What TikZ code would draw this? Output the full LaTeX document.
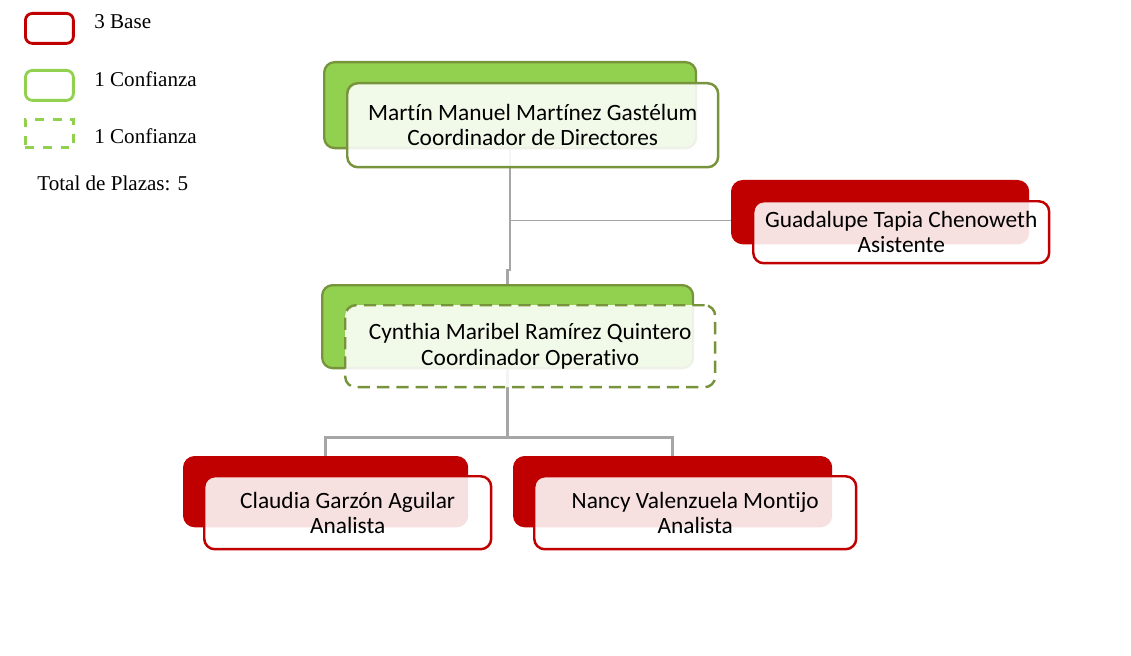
\documentclass[tikz,border=0pt]{standalone}
\usepackage{fontspec}
\usepackage{xcolor}
\setmainfont{Liberation Serif}
\newfontfamily\calibri[Ligatures=NoCommon]{Carlito}
\definecolor{baseRed}{HTML}{C00000}
\definecolor{confGreen}{HTML}{92D050}
\definecolor{darkGreen}{HTML}{77933C}
\definecolor{connGray}{HTML}{A6A6A6}

\begin{document}
\begin{tikzpicture}[x=0.02cm,y=-0.02cm,
    backbox/.style={draw, rounded corners=6pt, line width=1.3pt, anchor=north west, inner sep=0pt},
    frontbox/.style={draw, rounded corners=6pt, line width=1.4pt, fill=white, fill opacity=0.88, text opacity=1,
        anchor=north west, inner sep=0pt, align=center, font=\calibri\fontsize{13.3}{14.4}\selectfont},
    conn/.style={draw=connGray, line width=1.4pt},
    legtext/.style={anchor=west, inner sep=0pt, font=\fontsize{12}{14}\selectfont}]
    \useasboundingbox (0,0) rectangle (1131,655);

    % legend
    \node[draw=baseRed, line width=1.6pt, rounded corners=4pt, anchor=north west, minimum width=0.96cm, minimum height=0.6cm] (legBase) at (24,12) {};
    \node[legtext] (legBaseText) at (94,22) {3 Base};
    \node[draw=confGreen, line width=1.6pt, rounded corners=4pt, anchor=north west, minimum width=0.96cm, minimum height=0.6cm] (legConf) at (24,69) {};
    \node[legtext] (legConfText) at (94,79) {1 Confianza};
    \node[draw=confGreen, line width=1.6pt, dash pattern=on 5pt off 5pt, anchor=north west, minimum width=0.96cm, minimum height=0.56cm] (legConfB) at (24,118) {};
    \node[legtext] (legConfBText) at (94,136) {1 Confianza};
    \node[legtext] (total) at (37,183) {Total de Plazas: 5};

    % back boxes
    \node[backbox, draw=darkGreen, fill=confGreen, minimum width=7.44cm, minimum height=1.72cm] (b1) at (323,61) {};
    \node[backbox, draw=baseRed, fill=baseRed, minimum width=5.92cm, minimum height=1.24cm] (b3) at (731,180) {};
    \node[backbox, draw=darkGreen, fill=confGreen, minimum width=7.42cm, minimum height=1.66cm] (b2) at (321,284) {};
    \node[backbox, draw=baseRed, fill=baseRed, minimum width=5.66cm, minimum height=1.38cm] (b4) at (183,456) {};
    \node[backbox, draw=baseRed, fill=baseRed, minimum width=6.34cm, minimum height=1.38cm] (b5) at (513,456) {};

    % connectors
    \draw[conn] (b1.south) -- ++(0,121) -| (b2.north);
    \coordinate (tap) at ([yshift=-0.17cm]b3.west);
    \draw[connGray, line width=0.6pt] (b1.south |- tap) -- (tap);
    \draw[conn] (b2.south) -- ++(0,68) coordinate (fork);
    \draw[conn] (b4.north) |- (fork) -| (b5.north);

    % front boxes
    \node[frontbox, draw=darkGreen, minimum width=7.42cm, minimum height=1.68cm] (m1) at (346,82) {Martín Manuel Martínez Gastélum\\Coordinador de Directores};
    \node[frontbox, draw=baseRed, minimum width=5.92cm, minimum height=1.24cm] (m3) at (752,200) {Guadalupe Tapia Chenoweth\\Asistente};
    \node[frontbox, draw=darkGreen, dash pattern=on 7pt off 4pt, minimum width=7.40cm, minimum height=1.64cm] (m2) at (344,304) {Cynthia Maribel Ramírez Quintero\\Coordinador Operativo};
    \node[frontbox, draw=baseRed, minimum width=5.74cm, minimum height=1.46cm] (m4) at (203,475) {Claudia Garzón Aguilar\\Analista};
    \node[frontbox, draw=baseRed, minimum width=6.44cm, minimum height=1.46cm] (m5) at (533,475) {Nancy Valenzuela Montijo\\Analista};
\end{tikzpicture}
\end{document}
